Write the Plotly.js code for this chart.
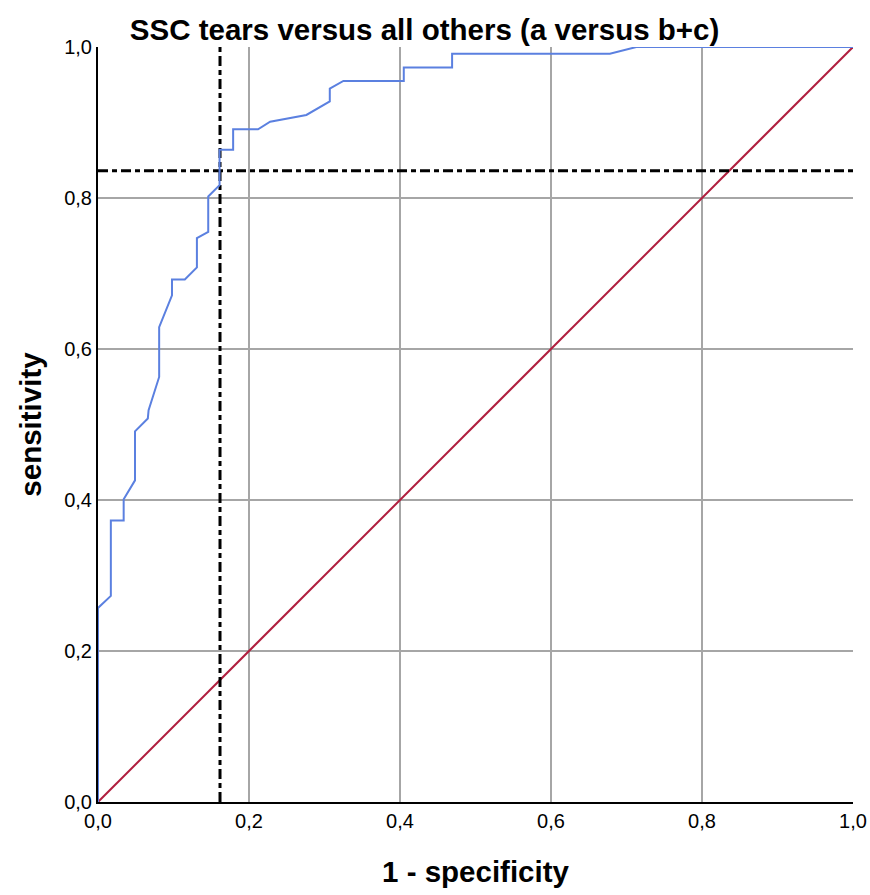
<!DOCTYPE html>
<html>
<head>
<meta charset="utf-8">
<script src="https://cdn.plot.ly/plotly-3.0.1.min.js"></script>
<style>html,body{margin:0;padding:0;background:#fff;}#chart{width:870px;height:895px;}</style>
</head>
<body>
<div id="chart"></div>
<script>
// ROC curve points (1 - specificity, sensitivity)
const rocX = [0, 0, 0.017, 0.017, 0.034, 0.034, 0.049, 0.049, 0.066, 0.067, 0.081, 0.081, 0.098, 0.098, 0.115, 0.131, 0.131, 0.146, 0.146, 0.161, 0.161, 0.179, 0.179, 0.212, 0.228, 0.276, 0.307, 0.307, 0.325, 0.405, 0.405, 0.469, 0.469, 0.678, 0.713, 1.0];
const rocY = [0, 0.257, 0.273, 0.373, 0.373, 0.401, 0.426, 0.491, 0.508, 0.519, 0.563, 0.629, 0.671, 0.692, 0.692, 0.708, 0.747, 0.755, 0.802, 0.817, 0.864, 0.864, 0.891, 0.891, 0.901, 0.910, 0.928, 0.945, 0.955, 0.955, 0.973, 0.973, 0.991, 0.991, 1.0, 1.0];
// reference diagonal
const diagX = [0, 1];
const diagY = [0, 1];
// optimal cut-off point
const cutX = 0.1616;
const cutY = 0.836;
const tickVals = [0, 0.2, 0.4, 0.6, 0.8, 1.0];
const tickText = ["0,0", "0,2", "0,4", "0,6", "0,8", "1,0"];

const dashStyle = "10px,4px,5px,4px";
const traces = [
  {x: diagX, y: diagY, mode: 'lines', line: {color: '#b01e3e', width: 2}, hoverinfo: 'skip', cliponaxis: false},
  {x: [cutX, cutX], y: [0, 1], mode: 'lines', line: {color: '#000', width: 3, dash: dashStyle}, hoverinfo: 'skip'},
  {x: [0, 1], y: [cutY, cutY], mode: 'lines', line: {color: '#000', width: 3, dash: dashStyle}, hoverinfo: 'skip'},
  {x: rocX, y: rocY, mode: 'lines', line: {color: '#5b80e0', width: 2}, hoverinfo: 'skip', cliponaxis: false}
];

const layout = {
  width: 870, height: 895,
  margin: {l: 98, r: 17, t: 47, b: 93},
  paper_bgcolor: '#fff', plot_bgcolor: '#fff',
  showlegend: false,
  font: {family: 'Liberation Sans, Arial', color: '#000'},
  title: {text: '<b>SSC tears versus all others (a versus b+c)</b>', font: {size: 29.5, color: '#000'}, x: 0.488, xanchor: 'center', y: 0.967, yanchor: 'middle'},
  xaxis: {
    range: [0, 1], tickmode: 'array', tickvals: tickVals, ticktext: tickText, showgrid: true,
    gridcolor: '#a6a6a6', gridwidth: 2, zeroline: false,
    showline: true, linecolor: '#000', linewidth: 2, ticks: '',
    tickfont: {family: 'Liberation Sans', size: 20, color: '#000'},
    title: {text: '<b>1 - specificity</b>', font: {size: 29.5}, standoff: 30}
  },
  yaxis: {
    range: [0, 1], tickmode: 'array', tickvals: tickVals, ticktext: tickText, showgrid: true,
    gridcolor: '#a6a6a6', gridwidth: 2, zeroline: false,
    showline: true, linecolor: '#000', linewidth: 2, ticks: '',
    tickfont: {family: 'Liberation Sans', size: 20, color: '#000'},
    title: {text: '<b>sensitivity</b>', font: {size: 29.5}, standoff: 14}
  }
};

Plotly.newPlot('chart', traces, layout, {displayModeBar: false, staticPlot: true});
</script>
</body>
</html>
